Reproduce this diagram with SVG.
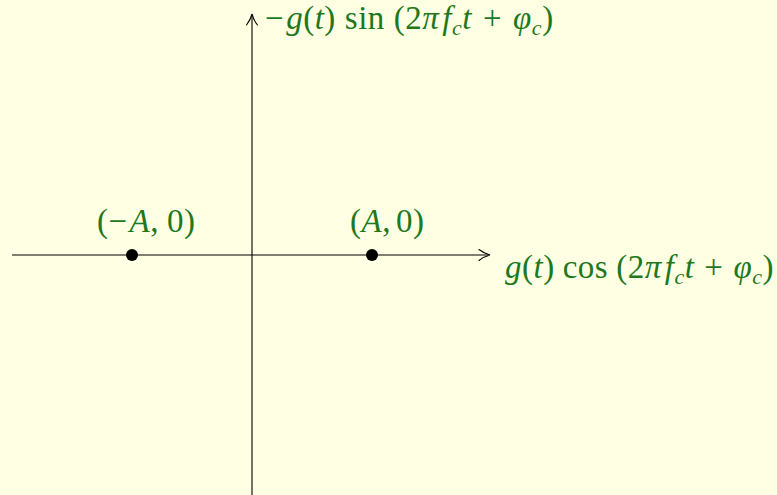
<svg xmlns="http://www.w3.org/2000/svg" width="777" height="495" viewBox="0 0 777 495">
<style>
.ax{stroke:#000;stroke-width:1.1;fill:none}
.tip{stroke:#000;stroke-width:1.1;fill:none;stroke-linecap:round}
.lbl{font-family:"Liberation Serif","DejaVu Serif",serif;font-size:33px;letter-spacing:0.5px;fill:#1e781e}
.i{font-style:italic}
.sub{font-size:22px;font-style:italic}
</style>
<rect width="777" height="495" fill="#ffffe3"/>
<g id="connectors">
<line class="ax" x1="12" y1="255" x2="489" y2="255"/>
<path class="tip" d="M479,249.5 Q484,253.5 490,255 Q484,256.5 479,260.5"/>
<line class="ax" x1="252" y1="495" x2="252" y2="16"/>
<path class="tip" d="M246.5,25 Q250.5,20 252,14 Q253.5,20 257.5,25"/>
</g>
<g id="yaxis-label">
<text class="lbl" x="265" y="29">−<tspan class="i" dx="2">g</tspan>(<tspan class="i">t</tspan>)<tspan dx="9">sin</tspan><tspan dx="9">(2</tspan><tspan class="i">π</tspan><tspan class="i" dx="3">f</tspan><tspan class="sub" dy="6">c</tspan><tspan class="i" dy="-6">t</tspan><tspan dx="11">+</tspan><tspan class="i" dx="11">φ</tspan><tspan class="sub" dy="6">c</tspan><tspan dy="-6">)</tspan></text>
</g>
<g id="xaxis-label">
<text class="lbl" x="505" y="278"><tspan class="i">g</tspan>(<tspan class="i">t</tspan>)<tspan dx="8">cos</tspan><tspan dx="8">(2</tspan><tspan class="i">π</tspan><tspan class="i" dx="3">f</tspan><tspan class="sub" dy="6">c</tspan><tspan class="i" dy="-6">t</tspan><tspan dx="10">+</tspan><tspan class="i" dx="10">φ</tspan><tspan class="sub" dy="6">c</tspan><tspan dy="-6">)</tspan></text>
</g>
<g id="point-neg">
<circle cx="132" cy="255" r="6" fill="#000"/>
<text class="lbl" x="97" y="232">(−<tspan class="i" dx="2">A</tspan>,<tspan dx="8">0)</tspan></text>
</g>
<g id="point-pos">
<circle cx="372" cy="255" r="6" fill="#000"/>
<text class="lbl" x="350" y="232">(<tspan class="i">A</tspan>,<tspan dx="5">0)</tspan></text>
</g>
</svg>
